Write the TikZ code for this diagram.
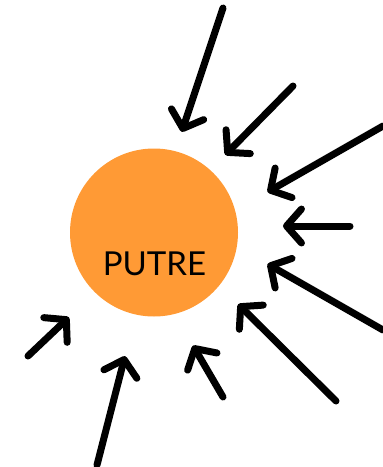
\documentclass[tikz,border=0pt]{standalone}
\usepackage{fontspec}
\setmainfont{Lato}
\usetikzlibrary{arrows.meta}
\definecolor{sunorange}{HTML}{FF9A35}
\begin{document}
\begin{tikzpicture}[x=1pt,y=-1pt,
  inarrow/.style={line width=7pt, line cap=round, shorten >=-4pt,
    -{Straight Barb[length=15pt,width=34pt,line cap=round,line join=round]}}]
\useasboundingbox (0,0) rectangle (383,467);
\node[circle, fill=sunorange, minimum size=168pt, inner sep=0pt] (sun) at (154,232.5) {};
\node[font=\fontsize{33pt}{38pt}\selectfont, anchor=base, inner sep=0pt] (label) at (154.5,275) {PUTRE};
\foreach \n/\tx/\ty/\hx/\hy in {
  a/223/8/183/128,
  b/293/86/228/152,
  c/383/126/271/190,
  d/350/226/287/226,
  e/383/330/271/266,
  f/336/401/241/307,
  g/223/397/195/349,
  h/97/465/124/360,
  i/28/356/66/320}{
  \coordinate (t\n) at (\tx,\ty);
  \coordinate (h\n) at (\hx,\hy);
  \draw[inarrow] (t\n) -- (h\n);
}
\end{tikzpicture}
\end{document}
